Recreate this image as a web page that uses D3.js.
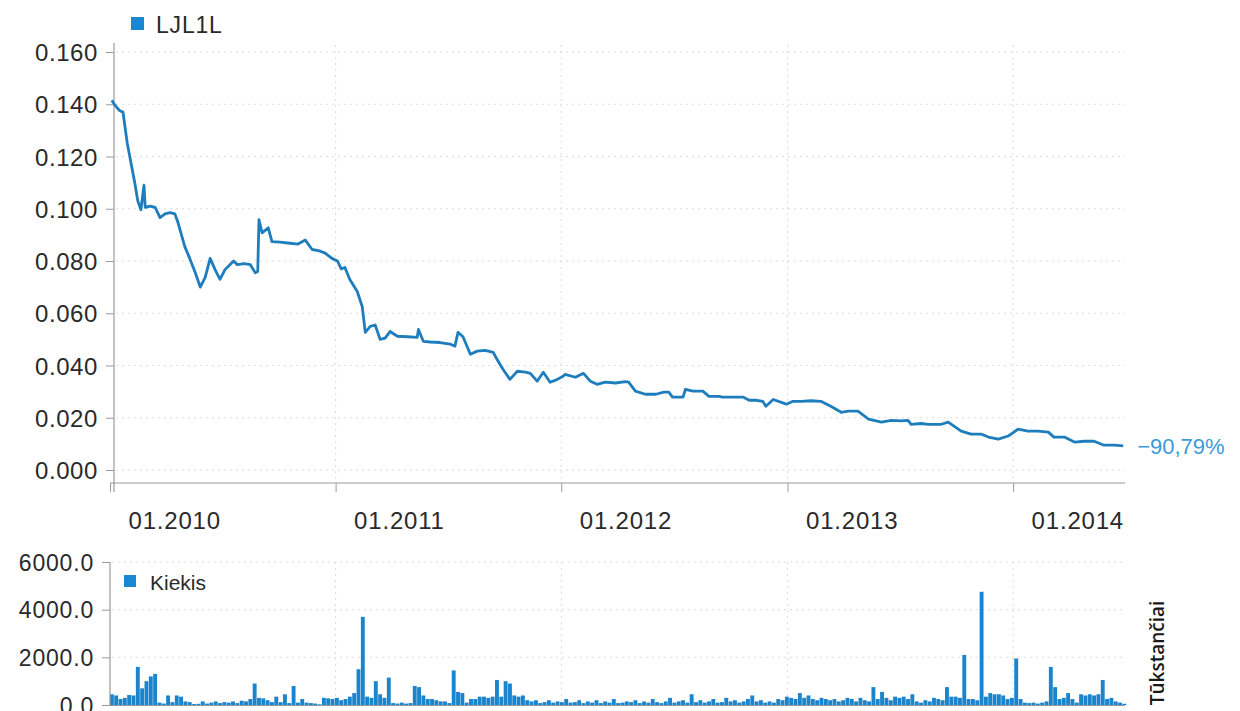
<!DOCTYPE html>
<html>
<head>
<meta charset="utf-8">
<script src="https://cdn.jsdelivr.net/npm/d3@7/dist/d3.min.js"></script>
<style>
  html, body { margin: 0; padding: 0; background: #fff; }
  svg { display: block; }
  text { font-family: "Liberation Sans", Arial, sans-serif; fill: #2a2a2a; }
</style>
</head>
<body>
<svg id="chart" width="1240" height="711"></svg>
<script>
// ---------- DATA ----------
const seriesName = "LJL1L";
const volumeName = "Kiekis";
const volumeUnit = "Tūkstančiai";
const changeLabel = "−90,79%";

const priceDates = [
"2010-01-04","2010-01-08","2010-01-13","2010-01-17","2010-01-22","2010-01-29","2010-02-06","2010-02-10",
"2010-02-15","2010-02-20","2010-02-25","2010-02-27","2010-03-07","2010-03-15","2010-03-23","2010-03-31",
"2010-04-08","2010-04-16","2010-04-21","2010-05-02","2010-05-10","2010-05-19","2010-05-27","2010-06-04",
"2010-06-12","2010-06-20","2010-06-28","2010-07-06","2010-07-14","2010-07-20","2010-07-26","2010-08-06",
"2010-08-16","2010-08-24","2010-08-28","2010-08-30","2010-09-04","2010-09-14","2010-09-20","2010-10-03",
"2010-10-19","2010-11-01","2010-11-13","2010-11-24","2010-12-04","2010-12-15","2010-12-26","2011-01-04",
"2011-01-10","2011-01-16","2011-01-24","2011-02-05","2011-02-13","2011-02-18","2011-02-26","2011-03-06",
"2011-03-14","2011-03-22","2011-03-30","2011-04-11","2011-04-27","2011-05-13","2011-05-15","2011-05-23",
"2011-06-03","2011-06-19","2011-07-05","2011-07-13","2011-07-18","2011-07-26","2011-08-07","2011-08-18",
"2011-08-31","2011-09-13","2011-09-19","2011-09-29","2011-10-10","2011-10-22","2011-11-04","2011-11-12",
"2011-11-23","2011-12-03","2011-12-14","2011-12-24","2012-01-04","2012-01-07","2012-01-24","2012-02-06",
"2012-02-17","2012-02-28","2012-03-12","2012-03-29","2012-04-14","2012-04-19","2012-04-30","2012-05-16",
"2012-06-02","2012-06-15","2012-06-23","2012-06-29","2012-07-16","2012-07-20","2012-08-01","2012-08-17",
"2012-08-27","2012-09-12","2012-09-18","2012-10-05","2012-10-21","2012-10-31","2012-11-11","2012-11-22",
"2012-11-27","2012-12-09","2012-12-30","2013-01-10","2013-01-23","2013-02-08","2013-02-24","2013-03-12",
"2013-03-29","2013-04-09","2013-04-25","2013-05-12","2013-06-02","2013-06-18","2013-07-04","2013-07-15",
"2013-07-20","2013-08-05","2013-08-17","2013-09-07","2013-09-18","2013-10-09","2013-10-25","2013-11-11",
"2013-11-22","2013-12-08","2013-12-24","2014-01-09","2014-01-25","2014-02-10","2014-02-27","2014-03-08",
"2014-03-25","2014-04-10","2014-04-26","2014-05-12","2014-05-28","2014-06-14","2014-06-28"
];
const priceValues = [
0.1415,0.1400,0.1385,0.1375,0.1370,0.1250,0.1150,0.1100,
0.1030,0.0996,0.1090,0.1005,0.1010,0.1005,0.0966,0.0980,
0.0985,0.0980,0.0947,0.0855,0.0810,0.0755,0.0700,0.0737,
0.0810,0.0767,0.0730,0.0767,0.0786,0.0800,0.0786,0.0790,
0.0786,0.0755,0.0760,0.0958,0.0908,0.0927,0.0874,0.0872,
0.0868,0.0865,0.0880,0.0844,0.0840,0.0830,0.0810,0.0800,
0.0770,0.0775,0.0729,0.0683,0.0626,0.0527,0.0550,0.0555,
0.0500,0.0505,0.0530,0.0512,0.0510,0.0508,0.0538,0.0492,
0.0490,0.0488,0.0482,0.0474,0.0527,0.0510,0.0443,0.0455,
0.0458,0.0450,0.0424,0.0385,0.0347,0.0378,0.0375,0.0370,
0.0340,0.0374,0.0336,0.0345,0.0359,0.0366,0.0355,0.0370,
0.0340,0.0328,0.0336,0.0333,0.0338,0.0336,0.0302,0.0290,
0.0290,0.0298,0.0298,0.0279,0.0279,0.0309,0.0302,0.0302,
0.0282,0.0282,0.0279,0.0279,0.0279,0.0267,0.0267,0.0263,
0.0244,0.0270,0.0252,0.0263,0.0263,0.0265,0.0263,0.0244,
0.0221,0.0225,0.0225,0.0195,0.0183,0.0190,0.0188,0.0190,
0.0175,0.0178,0.0175,0.0175,0.0183,0.0149,0.0137,0.0137,
0.0126,0.0118,0.0130,0.0156,0.0149,0.0149,0.0145,0.0126,
0.0126,0.0107,0.0110,0.0110,0.0095,0.0095,0.0092
];

// weekly traded volume (thousands), one value per week starting at volumeStart
const volumeStart = "2010-01-04";
const volumeValues = [
450,400,250,300,420,400,1600,700,1000,1200,1300,100,60,400,120,400,350,150,120,40,
50,150,60,100,150,80,120,100,150,80,180,150,250,900,300,280,200,120,350,120,
450,80,800,100,250,100,80,60,30,300,280,250,300,200,250,350,500,1500,3700,350,
300,1000,450,300,1150,80,60,100,60,80,800,750,400,250,250,200,150,150,80,1450,
550,500,100,250,250,350,350,300,350,1050,350,1000,900,400,350,400,200,150,200,80,
120,200,100,150,120,250,100,120,200,80,150,100,200,80,150,100,250,80,100,150,
120,200,80,150,100,250,120,80,150,300,100,150,200,100,450,120,200,100,150,250,
100,120,300,150,200,100,150,250,400,150,200,100,150,100,250,200,350,300,250,500,
300,400,250,200,300,250,200,250,150,200,300,250,150,300,200,150,750,250,550,300,
200,350,300,350,250,450,150,100,200,150,300,250,200,750,350,350,300,2100,250,250,
200,4750,350,500,450,450,400,250,300,1950,250,100,80,100,60,100,150,1600,750,250,
300,500,250,100,450,400,450,400,450,1050,250,300,150,100,50
];

const priceTicks = [0, 0.02, 0.04, 0.06, 0.08, 0.10, 0.12, 0.14, 0.16];
const volumeTicks = [0, 2000, 4000, 6000];
const xTickDates = ["2010-01-01","2011-01-01","2012-01-01","2013-01-01","2014-01-01"];

// ---------- DRAW ----------
const parse = d3.timeParse("%Y-%m-%d");
const price = priceDates.map((d, i) => ({ date: parse(d), value: priceValues[i] }));
const vStart = parse(volumeStart);
const volume = volumeValues.map((v, i) => ({ date: d3.timeWeek.offset(vStart, i), value: v }));
const xTicks = xTickDates.map(parse);

const svg = d3.select("#chart");
const lineColor = "#1e7dbd";
const barColor = "#1a84cc";
const gridColor = "#dcdcdc";

const x = d3.scaleTime()
  .domain([parse("2010-01-01"), parse("2014-07-01")])
  .range([110, 1125]);

const y = d3.scaleLinear().domain([0, 0.16]).range([470, 52]);
const yv = d3.scaleLinear().domain([0, 6000]).range([705, 562]);

// --- top chart grid
const gTop = svg.append("g");
gTop.selectAll("line.hg").data(priceTicks).enter().append("line")
  .attr("x1", 116).attr("x2", 1125)
  .attr("y1", d => y(d)).attr("y2", d => y(d))
  .attr("stroke", gridColor).attr("stroke-dasharray", "2,4");
gTop.selectAll("line.vg").data(xTicks.slice(1)).enter().append("line")
  .attr("x1", d => x(d)).attr("x2", d => x(d))
  .attr("y1", 45).attr("y2", 482)
  .attr("stroke", gridColor).attr("stroke-dasharray", "2,4");

// y axis (price)
const yAxis = d3.axisLeft(y).tickValues(priceTicks).tickFormat(d3.format(".3f")).tickSize(8).tickPadding(8);
const gy = svg.append("g").attr("transform", "translate(114,0)").call(yAxis);
gy.select(".domain").remove();
gy.selectAll(".tick line").attr("stroke", "#9a9a9a");
gy.selectAll(".tick text").attr("font-size", 24).attr("fill", "#2a2a2a")
  .style("letter-spacing", "0.6px").attr("dy", "0.36em");
svg.append("line").attr("x1", 114).attr("x2", 114).attr("y1", 43).attr("y2", 492)
  .attr("stroke", "#9a9a9a").attr("stroke-width", 1.2);

// x axis (time)
svg.append("line").attr("x1", 110).attr("x2", 1125).attr("y1", 483).attr("y2", 483)
  .attr("stroke", "#9a9a9a").attr("stroke-width", 1.2);
const xAxis = d3.axisBottom(x).tickValues(xTicks).tickSize(9).tickFormat(d3.timeFormat("%m.%Y"));
const gx = svg.append("g").attr("transform", "translate(0,483)").call(xAxis);
gx.select(".domain").remove();
gx.selectAll(".tick line").attr("stroke", "#9a9a9a");
gx.selectAll(".tick text").attr("font-size", 24).attr("fill", "#2a2a2a")
  .attr("text-anchor", "start").attr("x", 18).attr("y", 46).attr("dy", 0)
  .style("letter-spacing", "0.8px");

// price line
const line = d3.line().x(d => x(d.date)).y(d => y(d.value));
svg.append("path").datum(price)
  .attr("d", line).attr("fill", "none")
  .attr("stroke", lineColor).attr("stroke-width", 2.8).attr("stroke-linejoin", "round");

// change label
const last = price[price.length - 1];
svg.append("text").attr("x", x(last.date) + 14).attr("y", y(last.value) + 8)
  .attr("font-size", 22).style("fill", "#3d9ad8").text(changeLabel);

// legend top
svg.append("rect").attr("x", 131).attr("y", 17).attr("width", 13).attr("height", 13).attr("fill", "#1a87d3");
svg.append("text").attr("x", 156).attr("y", 33).attr("font-size", 23).text(seriesName)
  .style("letter-spacing", "0.8px");

// --- bottom chart
const gBot = svg.append("g");
gBot.selectAll("line.hg").data(volumeTicks.slice(1)).enter().append("line")
  .attr("x1", 112).attr("x2", 1125)
  .attr("y1", d => yv(d)).attr("y2", d => yv(d))
  .attr("stroke", gridColor).attr("stroke-dasharray", "2,4");
gBot.selectAll("line.vg").data(xTicks.slice(1)).enter().append("line")
  .attr("x1", d => x(d)).attr("x2", d => x(d))
  .attr("y1", 562).attr("y2", 704)
  .attr("stroke", gridColor).attr("stroke-dasharray", "2,4");

// bars
const bw = x(d3.timeWeek.offset(vStart, 1)) - x(vStart);
svg.append("g").selectAll("rect").data(volume).enter().append("rect")
  .attr("x", d => x(d.date) - bw * 0.45)
  .attr("width", bw * 0.9)
  .attr("y", d => yv(d.value))
  .attr("height", d => yv(0) - yv(d.value))
  .attr("fill", barColor);

// volume axis
const yvAxis = d3.axisLeft(yv).tickValues(volumeTicks).tickFormat(d3.format(".1f")).tickSize(8).tickPadding(8);
const gyv = svg.append("g").attr("transform", "translate(110,0)").call(yvAxis);
gyv.select(".domain").remove();
gyv.selectAll(".tick line").attr("stroke", "#9a9a9a");
gyv.selectAll(".tick text").attr("font-size", 23).attr("fill", "#2a2a2a")
  .style("letter-spacing", "0.8px").attr("dy", "0.36em");
svg.append("line").attr("x1", 110).attr("x2", 110).attr("y1", 562).attr("y2", 706)
  .attr("stroke", "#9a9a9a").attr("stroke-width", 1.2);
svg.append("line").attr("x1", 110).attr("x2", 1125).attr("y1", 705.5).attr("y2", 705.5)
  .attr("stroke", "#9a9a9a").attr("stroke-width", 1.2);

// legend bottom
svg.append("rect").attr("x", 124).attr("y", 575).attr("width", 12).attr("height", 12).attr("fill", "#1a87d3");
svg.append("text").attr("x", 150).attr("y", 590).attr("font-size", 21).text(volumeName);

// unit label
svg.append("text").attr("transform", "translate(1164,653) rotate(-90)")
  .attr("text-anchor", "middle").attr("font-size", 19).attr("font-weight", 600)
  .style("font-family", "'Open Sans', 'Noto Sans', sans-serif").style("fill", "#1a1a1a")
  .text(volumeUnit);
</script>
</body>
</html>
